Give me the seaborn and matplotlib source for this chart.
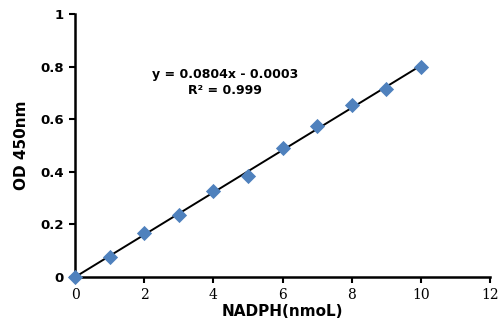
import numpy as np
import pandas as pd
import matplotlib as mpl
mpl.use('Agg')
import matplotlib.pyplot as plt
import seaborn as sns

nadph = [0, 1, 2, 3, 4, 5, 6, 7, 8, 9, 10]
od450 = [0.0, 0.076, 0.166, 0.236, 0.327, 0.384, 0.489, 0.574, 0.652, 0.715, 0.800]
x_ticks = [0, 2, 4, 6, 8, 10, 12]
y_ticks = [0, 0.2, 0.4, 0.6, 0.8, 1]
slope, intercept = 0.0804, -0.0003

sns.set_style('white')
plt.rcParams['font.family'] = ['DejaVu Sans']
plt.rcParams['text.color'] = 'black'
plt.rcParams['axes.labelcolor'] = 'black'
plt.rcParams['xtick.color'] = 'black'
plt.rcParams['ytick.color'] = 'black'

df = pd.DataFrame({'NADPH': nadph, 'OD': od450})
fit_x = np.array([nadph[0], nadph[-1]])
fit_df = pd.DataFrame({'NADPH': fit_x, 'OD': slope * fit_x + intercept})

fig = plt.figure(figsize=(5, 3.24), dpi=100)
ax = fig.add_axes([0.15, 0.145, 0.83, 0.812])

sns.lineplot(data=fit_df, x='NADPH', y='OD', ax=ax, color='black',
             linewidth=1.4, zorder=2)
sns.scatterplot(data=df, x='NADPH', y='OD', ax=ax, marker='D', s=60,
                color='#4F81BD', edgecolor='#4F81BD', linewidth=0, zorder=3,
                clip_on=False)

ax.set_xlim(0, 12)
ax.set_ylim(0, 1)
ax.set_xticks(x_ticks)
ax.set_yticks(y_ticks)
ax.set_xticklabels([str(t) for t in x_ticks], family='DejaVu Serif',
                   fontsize=10)
ax.set_yticklabels(['0', '0.2', '0.4', '0.6', '0.8', '1'],
                   fontsize=9.5, weight='bold')

for side in ['top', 'right']:
    ax.spines[side].set_visible(False)
for side in ['left', 'bottom']:
    ax.spines[side].set_color('black')
    ax.spines[side].set_linewidth(1.8)
ax.tick_params(axis='both', direction='out', length=4, width=1.5,
               color='black', left=True, bottom=True, pad=4)

ax.set_xlabel('NADPH(nmoL)', fontsize=11, weight='bold', labelpad=1)
ax.set_ylabel('OD 450nm', fontsize=11, weight='bold', labelpad=8)

ax.text(4.35, 0.74, 'y = 0.0804x - 0.0003\nR\u00b2 = 0.999', ha='center',
        va='center', fontsize=9, weight='bold', linespacing=1.3)

fig.savefig('out.png', dpi=100)
